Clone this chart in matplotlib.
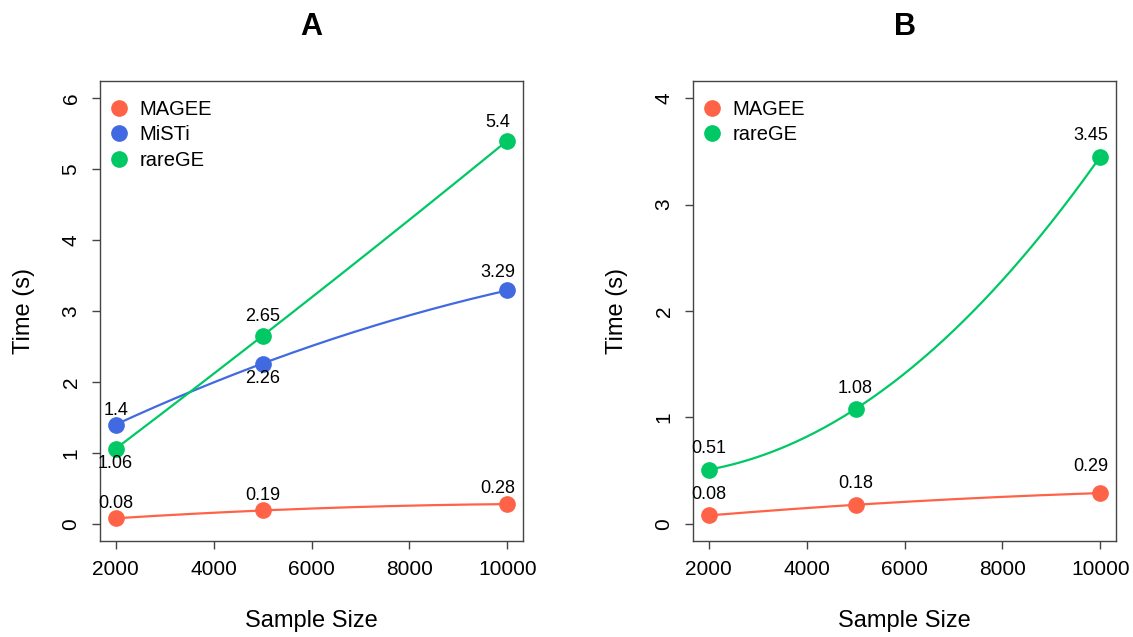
import numpy as np
import matplotlib.pyplot as plt
from matplotlib.lines import Line2D

plt.rcParams['font.family'] = ['Liberation Sans', 'DejaVu Sans']

sizes = [2000, 5000, 10000]

# panel A
a_magee = [0.08, 0.19, 0.28]
a_misti = [1.4, 2.26, 3.29]
a_rarege = [1.06, 2.65, 5.4]

# panel B
b_magee = [0.08, 0.18, 0.29]
b_rarege = [0.51, 1.08, 3.45]

C_MAGEE = "#FF6347"
C_MISTI = "#4169E1"
C_RAREGE = "#00C864"

W, H = 1133, 637
fig = plt.figure(figsize=(W / 100, H / 100), dpi=100)


def px_axes(left, right, top, bottom):
    return fig.add_axes([left / W, 1 - bottom / H, (right - left) / W, (bottom - top) / H])


def draw_series(ax, y, color, offsets):
    xs = np.array(sizes, dtype=float)
    coef = np.polyfit(xs, y, 2)
    xx = np.linspace(xs[0], xs[-1], 200)
    ax.plot(xx, np.polyval(coef, xx), color=color, lw=1.6, zorder=2)
    ax.plot(xs, y, "o", color=color, ms=11, zorder=3)
    for x, v, (dx, dy) in zip(xs, y, offsets):
        ax.annotate(f"{v:g}", (x, v), xytext=(dx, dy), textcoords="offset points",
                    ha="center", va="center", fontsize=13)


def style(ax, ymax, title, names, colors):
    d = 0.04 * ymax
    ax.set_ylim(-d, ymax + d)
    ax.set_xlim(2000 - 320, 10000 + 320)
    ax.set_xticks([2000, 4000, 6000, 8000, 10000])
    ax.set_yticks(range(0, ymax + 1))
    for lbl in ax.get_yticklabels():
        lbl.set_rotation(90)
        lbl.set_va("center")
    ax.tick_params(labelsize=15, length=6, width=1, color="#444444", pad=8)
    for s in ax.spines.values():
        s.set_color("#444444")
        s.set_linewidth(1)
    ax.set_xlabel("Sample Size", fontsize=17, labelpad=22)
    ax.set_ylabel("Time (s)", fontsize=17, labelpad=19)
    ax.set_title(title, fontsize=22, fontweight="bold", pad=33)
    handles = [Line2D([], [], ls="none", marker="o", ms=11, color=c) for c in colors]
    ax.legend(handles, names, loc="upper left", frameon=False, fontsize=14.5,
              handlelength=0.5, handletextpad=0.75, labelspacing=0.32, borderaxespad=0.3,
              bbox_to_anchor=(0.0, 0.99))


axA = px_axes(100, 523, 81, 541)
draw_series(axA, a_magee, C_MAGEE, [(0, 11), (0, 11), (-7, 11)])
draw_series(axA, a_misti, C_MISTI, [(0, 10), (0, -11), (-7, 13)])
draw_series(axA, a_rarege, C_RAREGE, [(0, -11), (0, 14), (-7, 13)])
style(axA, 6, "A", ["MAGEE", "MiSTi", "rareGE"], [C_MAGEE, C_MISTI, C_RAREGE])

axB = px_axes(693, 1116, 81, 541)
draw_series(axB, b_magee, C_MAGEE, [(0, 15), (0, 15), (-7, 19)])
draw_series(axB, b_rarege, C_RAREGE, [(0, 15), (0, 15), (-7, 15)])
style(axB, 4, "B", ["MAGEE", "rareGE"], [C_MAGEE, C_RAREGE])

fig.savefig("out.png", dpi=100)
